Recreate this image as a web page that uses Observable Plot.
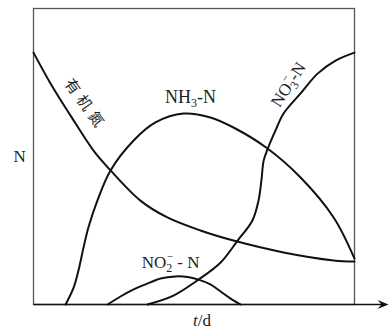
<!DOCTYPE html>
<html><head><meta charset="utf-8">
<script src="https://cdn.jsdelivr.net/npm/d3@7"></script>
<script src="https://cdn.jsdelivr.net/npm/@observablehq/plot@0.6"></script>
<style>body{margin:0;background:#fff}</style>
</head><body><div id="chart"></div>
<script>
// x: time (relative units 0..100), y: N content (relative units 0..100)
const organicX = [0, 5.3, 11.5, 18.7, 24.0, 33.3, 41.7, 52.0, 62.3, 77.9, 93.5, 100];
const organicY = [85.1, 74.7, 63.9, 52.0, 45.3, 35.1, 29.4, 25.0, 21.6, 17.6, 14.9, 14.5];
const nh3X = [10.0, 12.5, 14.0, 15.6, 17.1, 19.9, 24.0, 31.2, 38.0, 46.7, 55.1, 62.3, 72.9, 83.2, 93.5, 100];
const nh3Y = [0, 5.7, 11.5, 19.3, 26.0, 35.1, 45.3, 55.4, 61.5, 64.5, 63.2, 59.8, 52.7, 42.9, 29.4, 15.5];
const no3X = [35.5, 43.6, 51.4, 58.3, 63.6, 68.2, 70.1, 71.0, 71.7, 72.9, 75.4, 77.9, 83.2, 88.5, 94.1, 100];
const no3Y = [0, 3.0, 8.4, 14.2, 21.6, 28.4, 35.1, 41.9, 48.6, 52.4, 58.8, 64.5, 71.3, 78.0, 82.4, 85.1];
const no2X = [23.1, 27.1, 31.2, 34.9, 39.6, 44.2, 48.0, 51.4, 55.1, 58.3, 61.4, 64.5];
const no2Y = [0, 2.7, 5.1, 6.8, 8.8, 9.5, 9.3, 8.4, 6.8, 4.4, 2.0, 0];

const seriesNames = ["有机氮", "NH3-N", "NO3-N", "NO2 - N"];
const labelX = [16.2, 48.9, 79.4, 42.7];
const labelY = [67.4, 69.9, 74.3, 14.2];
const labelRotate = [54, 0, -57, 0];
const labelSize = [15, 18, 17, 17];
const axisLabels = ["N", "t/d"];

const toRows = (xs, ys) => xs.map((x, i) => ({x, y: ys[i]}));
const labels = seriesNames.map((name, i) => ({name, x: labelX[i], y: labelY[i], r: labelRotate[i], s: labelSize[i]}));

const serif = "'Liberation Serif', 'Times New Roman', serif";
const lineOpts = {x: "x", y: "y", curve: "catmull-rom", stroke: "#111", strokeWidth: 2};

// stealth arrowhead pointing right, tip at the anchor point
const arrowHead = {draw(ctx) { ctx.moveTo(0, 0); ctx.lineTo(-11, -4.5); ctx.lineTo(-7, 0); ctx.lineTo(-11, 4.5); ctx.closePath(); }};

const plot = Plot.plot({
  width: 389, height: 330,
  marginLeft: 33, marginRight: 35, marginTop: 8, marginBottom: 26,
  x: {domain: [0, 100], axis: null},
  y: {domain: [0, 100], axis: null},
  style: {fontFamily: serif, background: "#fff"},
  marks: [
    Plot.frame({stroke: "#555", strokeWidth: 1.3}),
    Plot.link([{x1: 0, x2: 109, y: 0}], {x1: "x1", x2: "x2", y1: "y", y2: "y", stroke: "#111", strokeWidth: 1.5, clip: false}),
    Plot.dot([{x: 110.6, y: 0}], {x: "x", y: "y", symbol: arrowHead, fill: "#111", stroke: "none", clip: false}),
    Plot.line(toRows(organicX, organicY), lineOpts),
    Plot.line(toRows(nh3X, nh3Y), lineOpts),
    Plot.line(toRows(no3X, no3Y), lineOpts),
    Plot.line(toRows(no2X, no2Y), lineOpts),
    ...labels.map(l => Plot.text([l], {x: "x", y: "y", text: "name", rotate: l.r, fontSize: l.s, fill: "#222",
      fontFamily: l.name === "有机氮" ? "'Noto Sans CJK SC', sans-serif" : serif})),
    Plot.text([axisLabels[0]], {frameAnchor: "left", dx: -20, dy: 0, text: d => d, fontSize: 17, fill: "#222"}),
    Plot.text([axisLabels[1]], {frameAnchor: "bottom", dy: 21, dx: 8, text: d => d, fontSize: 17, fill: "#222"})
  ]
});
document.getElementById("chart").appendChild(plot);

// rich text: subscripts / stacked superscripts, italic t
const svg = d3.select(plot);
svg.selectAll("text").each(function() {
  const el = d3.select(this);
  const t = this.textContent;
  if (t === "t/d") {
    el.text("");
    el.append("tspan").attr("font-style", "italic").text("t");
    el.append("tspan").text("/d");
  } else if (t === "有机氮") {
    el.attr("letter-spacing", "5px");
  } else if (t === "NH3-N") {
    el.text("");
    el.append("tspan").text("NH");
    el.append("tspan").attr("font-size", 12).attr("dy", 4).text("3");
    el.append("tspan").attr("dy", -4).text("-N");
  } else if (t === "NO3-N" || t === "NO2 - N") {
    const d = t[2];
    el.text("");
    el.append("tspan").text("NO");
    el.append("tspan").attr("font-size", 12).attr("dy", 4).text(d);
    el.append("tspan").attr("font-size", 11).attr("dx", -5.5).attr("dy", -12).text("\u2212");
    el.append("tspan").attr("dy", 8).text(t === "NO3-N" ? "-N" : " - N");
  }
});
</script></body></html>
